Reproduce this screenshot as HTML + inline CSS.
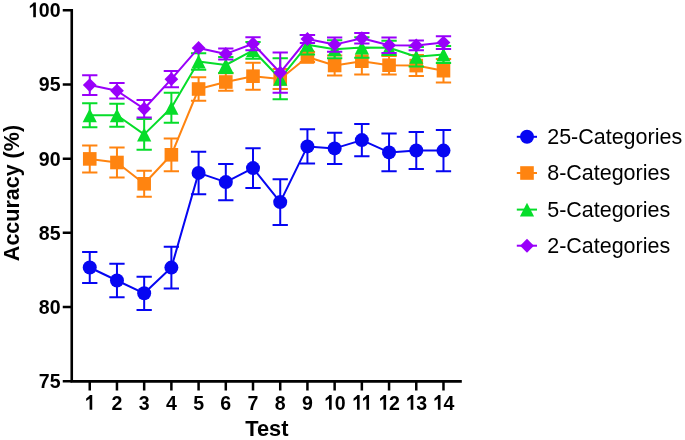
<!DOCTYPE html>
<html><head><meta charset="utf-8"><style>
html,body{margin:0;padding:0;background:#fff;}
body{width:685px;height:440px;overflow:hidden;}
svg{display:block;filter:blur(0.3px);}
text{font-family:"Liberation Sans",sans-serif;fill:#000;}
.tk{font-size:20.6px;font-weight:bold;}
.ttl{font-size:22.9px;font-weight:bold;}
.lg{font-size:22.8px;}
</style></head><body>
<svg width="685" height="440" viewBox="0 0 685 440">
<rect width="685" height="440" fill="#fff"/>
<path d="M71.75 9.0V382.75M70.5 381.4H461.8" stroke="#000" stroke-width="2.6" fill="none"/>
<path d="M62.75 10.2H71.75M62.75 84.42H71.75M62.75 158.64H71.75M62.75 232.86H71.75M62.75 307.08H71.75M62.75 381.3H71.75M89.75 381.4V390.5M116.96 381.4V390.5M144.17 381.4V390.5M171.38 381.4V390.5M198.59 381.4V390.5M225.8 381.4V390.5M253.01 381.4V390.5M280.22 381.4V390.5M307.43 381.4V390.5M334.64 381.4V390.5M361.85 381.4V390.5M389.06 381.4V390.5M416.27 381.4V390.5M443.48 381.4V390.5" stroke="#000" stroke-width="2.5" fill="none"/>
<polygon points="35.88,17.2 35.88,2.45 33.63,2.45 32.56,3.71 29.82,5.97 29.82,8.34 33.24,6.08 33.24,17.2" fill="#000"/><text transform="translate(38.84 17.2) scale(0.95 1)" class="tk">0</text><text transform="translate(49.72 17.2) scale(0.95 1)" class="tk">0</text>
<text transform="translate(38.84 91.42) scale(0.95 1)" class="tk">9</text><text transform="translate(49.72 91.42) scale(0.95 1)" class="tk">5</text>
<text transform="translate(38.84 165.64) scale(0.95 1)" class="tk">9</text><text transform="translate(49.72 165.64) scale(0.95 1)" class="tk">0</text>
<text transform="translate(38.84 239.86) scale(0.95 1)" class="tk">8</text><text transform="translate(49.72 239.86) scale(0.95 1)" class="tk">5</text>
<text transform="translate(38.84 314.08) scale(0.95 1)" class="tk">8</text><text transform="translate(49.72 314.08) scale(0.95 1)" class="tk">0</text>
<text transform="translate(38.84 388.3) scale(0.95 1)" class="tk">7</text><text transform="translate(49.72 388.3) scale(0.95 1)" class="tk">5</text>
<polygon points="92.24,409.8 92.24,395.05 89.98,395.05 88.91,396.31 86.17,398.57 86.17,400.94 89.59,398.68 89.59,409.8" fill="#000"/>
<text transform="translate(111.52 409.8) scale(0.95 1)" class="tk">2</text>
<text transform="translate(138.73 409.8) scale(0.95 1)" class="tk">3</text>
<text transform="translate(165.94 409.8) scale(0.95 1)" class="tk">4</text>
<text transform="translate(193.15 409.8) scale(0.95 1)" class="tk">5</text>
<text transform="translate(220.36 409.8) scale(0.95 1)" class="tk">6</text>
<text transform="translate(247.57 409.8) scale(0.95 1)" class="tk">7</text>
<text transform="translate(274.78 409.8) scale(0.95 1)" class="tk">8</text>
<text transform="translate(301.99 409.8) scale(0.95 1)" class="tk">9</text>
<polygon points="331.68,409.8 331.68,395.05 329.43,395.05 328.36,396.31 325.62,398.57 325.62,400.94 329.04,398.68 329.04,409.8" fill="#000"/><text transform="translate(334.64 409.8) scale(0.95 1)" class="tk">0</text>
<polygon points="359.62,409.8 359.62,395.05 357.37,395.05 356.29,396.31 353.55,398.57 353.55,400.94 356.98,398.68 356.98,409.8" fill="#000"/><polygon points="369.05,409.8 369.05,395.05 366.8,395.05 365.72,396.31 362.99,398.57 362.99,400.94 366.41,398.68 366.41,409.8" fill="#000"/>
<polygon points="386.1,409.8 386.1,395.05 383.85,395.05 382.78,396.31 380.04,398.57 380.04,400.94 383.46,398.68 383.46,409.8" fill="#000"/><text transform="translate(389.06 409.8) scale(0.95 1)" class="tk">2</text>
<polygon points="413.31,409.8 413.31,395.05 411.06,395.05 409.99,396.31 407.25,398.57 407.25,400.94 410.67,398.68 410.67,409.8" fill="#000"/><text transform="translate(416.27 409.8) scale(0.95 1)" class="tk">3</text>
<polygon points="440.52,409.8 440.52,395.05 438.27,395.05 437.2,396.31 434.46,398.57 434.46,400.94 437.88,398.68 437.88,409.8" fill="#000"/><text transform="translate(443.48 409.8) scale(0.95 1)" class="tk">4</text>
<text transform="translate(266.8 435.7) scale(0.952 1)" text-anchor="middle" class="ttl">Test</text>
<text transform="translate(18.75 193.05) rotate(-90) scale(0.939 1)" text-anchor="middle" class="ttl">Accuracy (%)</text>
<polyline points="89.75,267.5 116.96,280.5 144.17,293.3 171.38,267.6 198.59,172.9 225.8,182.1 253.01,168.1 280.22,202.1 307.43,146.4 334.64,148.4 361.85,140.1 389.06,152.4 416.27,150.5 443.48,150.6" fill="none" stroke="#0606f2" stroke-width="2.0" stroke-linejoin="round"/>
<path d="M89.75 251.95V283.05M82.1 251.95H97.4M82.1 283.05H97.4M116.96 263.75V297.25M109.31 263.75H124.61M109.31 297.25H124.61M144.17 276.65V309.95M136.52 276.65H151.82M136.52 309.95H151.82M171.38 246.7V288.5M163.73 246.7H179.03M163.73 288.5H179.03M198.59 151.65V194.15M190.94 151.65H206.24M190.94 194.15H206.24M225.8 163.9V200.3M218.15 163.9H233.45M218.15 200.3H233.45M253.01 148.15V188.05M245.36 148.15H260.66M245.36 188.05H260.66M280.22 179.3V224.9M272.57 179.3H287.87M272.57 224.9H287.87M307.43 129.35V163.45M299.78 129.35H315.08M299.78 163.45H315.08M334.64 132.7V164.1M326.99 132.7H342.29M326.99 164.1H342.29M361.85 124.05V156.15M354.2 124.05H369.5M354.2 156.15H369.5M389.06 133.55V171.25M381.41 133.55H396.71M381.41 171.25H396.71M416.27 132V169M408.62 132H423.92M408.62 169H423.92M443.48 130.05V171.15M435.83 130.05H451.13M435.83 171.15H451.13" fill="none" stroke="#0606f2" stroke-width="2.0"/>
<circle cx="89.75" cy="267.5" r="7" fill="#0606f2"/>
<circle cx="116.96" cy="280.5" r="7" fill="#0606f2"/>
<circle cx="144.17" cy="293.3" r="7" fill="#0606f2"/>
<circle cx="171.38" cy="267.6" r="7" fill="#0606f2"/>
<circle cx="198.59" cy="172.9" r="7" fill="#0606f2"/>
<circle cx="225.8" cy="182.1" r="7" fill="#0606f2"/>
<circle cx="253.01" cy="168.1" r="7" fill="#0606f2"/>
<circle cx="280.22" cy="202.1" r="7" fill="#0606f2"/>
<circle cx="307.43" cy="146.4" r="7" fill="#0606f2"/>
<circle cx="334.64" cy="148.4" r="7" fill="#0606f2"/>
<circle cx="361.85" cy="140.1" r="7" fill="#0606f2"/>
<circle cx="389.06" cy="152.4" r="7" fill="#0606f2"/>
<circle cx="416.27" cy="150.5" r="7" fill="#0606f2"/>
<circle cx="443.48" cy="150.6" r="7" fill="#0606f2"/>
<polyline points="89.75,158.9 116.96,162.5 144.17,183.8 171.38,154.8 198.59,89 225.8,82 253.01,76.2 280.22,79 307.43,57 334.64,65.5 361.85,61.2 389.06,65.2 416.27,65.6 443.48,70.7" fill="none" stroke="#ff8410" stroke-width="2.0" stroke-linejoin="round"/>
<path d="M89.75 145.4V172.4M82.1 145.4H97.4M82.1 172.4H97.4M116.96 147.5V177.5M109.31 147.5H124.61M109.31 177.5H124.61M144.17 170.8V196.8M136.52 170.8H151.82M136.52 196.8H151.82M171.38 138.45V171.15M163.73 138.45H179.03M163.73 171.15H179.03M198.59 77.25V100.75M190.94 77.25H206.24M190.94 100.75H206.24M225.8 73.3V90.7M218.15 73.3H233.45M218.15 90.7H233.45M253.01 62.7V89.7M245.36 62.7H260.66M245.36 89.7H260.66M280.22 69V89M272.57 69H287.87M272.57 89H287.87M307.43 52V62M299.78 52H315.08M299.78 62H315.08M334.64 55.5V75.5M326.99 55.5H342.29M326.99 75.5H342.29M361.85 47.9V74.5M354.2 47.9H369.5M354.2 74.5H369.5M389.06 55.9V74.5M381.41 55.9H396.71M381.41 74.5H396.71M416.27 55.1V76.1M408.62 55.1H423.92M408.62 76.1H423.92M443.48 58.9V82.5M435.83 58.9H451.13M435.83 82.5H451.13" fill="none" stroke="#ff8410" stroke-width="2.0"/>
<rect x="82.95" y="152.1" width="13.6" height="13.6" fill="#ff8410"/>
<rect x="110.16" y="155.7" width="13.6" height="13.6" fill="#ff8410"/>
<rect x="137.37" y="177" width="13.6" height="13.6" fill="#ff8410"/>
<rect x="164.58" y="148" width="13.6" height="13.6" fill="#ff8410"/>
<rect x="191.79" y="82.2" width="13.6" height="13.6" fill="#ff8410"/>
<rect x="219" y="75.2" width="13.6" height="13.6" fill="#ff8410"/>
<rect x="246.21" y="69.4" width="13.6" height="13.6" fill="#ff8410"/>
<rect x="273.42" y="72.2" width="13.6" height="13.6" fill="#ff8410"/>
<rect x="300.63" y="50.2" width="13.6" height="13.6" fill="#ff8410"/>
<rect x="327.84" y="58.7" width="13.6" height="13.6" fill="#ff8410"/>
<rect x="355.05" y="54.4" width="13.6" height="13.6" fill="#ff8410"/>
<rect x="382.26" y="58.4" width="13.6" height="13.6" fill="#ff8410"/>
<rect x="409.47" y="58.8" width="13.6" height="13.6" fill="#ff8410"/>
<rect x="436.68" y="63.9" width="13.6" height="13.6" fill="#ff8410"/>
<polyline points="89.75,115.25 116.96,115.3 144.17,134.4 171.38,107.7 198.59,61.5 225.8,65 253.01,50.3 280.22,78.7 307.43,44.8 334.64,49.3 361.85,47.4 389.06,47.8 416.27,56.8 443.48,54.6" fill="none" stroke="#06dd2a" stroke-width="2.0" stroke-linejoin="round"/>
<path d="M89.75 103.25V127.25M82.1 103.25H97.4M82.1 127.25H97.4M116.96 103.8V126.8M109.31 103.8H124.61M109.31 126.8H124.61M144.17 119V149.8M136.52 119H151.82M136.52 149.8H151.82M171.38 92.7V122.7M163.73 92.7H179.03M163.73 122.7H179.03M198.59 53.25V69.75M190.94 53.25H206.24M190.94 69.75H206.24M225.8 56.9V73.1M218.15 56.9H233.45M218.15 73.1H233.45M253.01 41.9V58.7M245.36 41.9H260.66M245.36 58.7H260.66M280.22 58.2V99.2M272.57 58.2H287.87M272.57 99.2H287.87M307.43 35V54.6M299.78 35H315.08M299.78 54.6H315.08M334.64 40.3V58.3M326.99 40.3H342.29M326.99 58.3H342.29M361.85 37.15V57.65M354.2 37.15H369.5M354.2 57.65H369.5M389.06 40.7V54.9M381.41 40.7H396.71M381.41 54.9H396.71M416.27 47V66.6M408.62 47H423.92M408.62 66.6H423.92M443.48 46.1V63.1M435.83 46.1H451.13M435.83 63.1H451.13" fill="none" stroke="#06dd2a" stroke-width="2.0"/>
<polygon points="89.75,108.45 96.85,122.25 82.65,122.25" fill="#06dd2a"/>
<polygon points="116.96,108.5 124.06,122.3 109.86,122.3" fill="#06dd2a"/>
<polygon points="144.17,127.6 151.27,141.4 137.07,141.4" fill="#06dd2a"/>
<polygon points="171.38,100.9 178.48,114.7 164.28,114.7" fill="#06dd2a"/>
<polygon points="198.59,54.7 205.69,68.5 191.49,68.5" fill="#06dd2a"/>
<polygon points="225.8,58.2 232.9,72 218.7,72" fill="#06dd2a"/>
<polygon points="253.01,43.5 260.11,57.3 245.91,57.3" fill="#06dd2a"/>
<polygon points="280.22,71.9 287.32,85.7 273.12,85.7" fill="#06dd2a"/>
<polygon points="307.43,38 314.53,51.8 300.33,51.8" fill="#06dd2a"/>
<polygon points="334.64,42.5 341.74,56.3 327.54,56.3" fill="#06dd2a"/>
<polygon points="361.85,40.6 368.95,54.4 354.75,54.4" fill="#06dd2a"/>
<polygon points="389.06,41 396.16,54.8 381.96,54.8" fill="#06dd2a"/>
<polygon points="416.27,50 423.37,63.8 409.17,63.8" fill="#06dd2a"/>
<polygon points="443.48,47.8 450.58,61.6 436.38,61.6" fill="#06dd2a"/>
<polyline points="89.75,85.1 116.96,90.75 144.17,108.8 171.38,79.15 198.59,47.9 225.8,53.9 253.01,43.8 280.22,72.7 307.43,39 334.64,44.6 361.85,38.2 389.06,45.3 416.27,45.4 443.48,42.6" fill="none" stroke="#9900fa" stroke-width="2.0" stroke-linejoin="round"/>
<path d="M89.75 75.2V95M82.1 75.2H97.4M82.1 95H97.4M116.96 83.1V98.4M109.31 83.1H124.61M109.31 98.4H124.61M144.17 100V117.6M136.52 100H151.82M136.52 117.6H151.82M171.38 71V87.3M163.73 71H179.03M163.73 87.3H179.03M225.8 48.4V59.4M218.15 48.4H233.45M218.15 59.4H233.45M253.01 37.3V50.3M245.36 37.3H260.66M245.36 50.3H260.66M280.22 52.6V92.8M272.57 52.6H287.87M272.57 92.8H287.87M307.43 35V43M299.78 35H315.08M299.78 43H315.08M334.64 37.5V51.7M326.99 37.5H342.29M326.99 51.7H342.29M361.85 32.9V43.5M354.2 32.9H369.5M354.2 43.5H369.5M389.06 37.5V53.1M381.41 37.5H396.71M381.41 53.1H396.71M416.27 40.6V50.2M408.62 40.6H423.92M408.62 50.2H423.92M443.48 36.2V49M435.83 36.2H451.13M435.83 49H451.13" fill="none" stroke="#9900fa" stroke-width="2.0"/>
<polygon points="89.75,78.15 96.65,85.1 89.75,92.05 82.85,85.1" fill="#9900fa"/>
<polygon points="116.96,83.8 123.86,90.75 116.96,97.7 110.06,90.75" fill="#9900fa"/>
<polygon points="144.17,101.85 151.07,108.8 144.17,115.75 137.27,108.8" fill="#9900fa"/>
<polygon points="171.38,72.2 178.28,79.15 171.38,86.1 164.48,79.15" fill="#9900fa"/>
<polygon points="198.59,40.95 205.49,47.9 198.59,54.85 191.69,47.9" fill="#9900fa"/>
<polygon points="225.8,46.95 232.7,53.9 225.8,60.85 218.9,53.9" fill="#9900fa"/>
<polygon points="253.01,36.85 259.91,43.8 253.01,50.75 246.11,43.8" fill="#9900fa"/>
<polygon points="280.22,65.75 287.12,72.7 280.22,79.65 273.32,72.7" fill="#9900fa"/>
<polygon points="307.43,32.05 314.33,39 307.43,45.95 300.53,39" fill="#9900fa"/>
<polygon points="334.64,37.65 341.54,44.6 334.64,51.55 327.74,44.6" fill="#9900fa"/>
<polygon points="361.85,31.25 368.75,38.2 361.85,45.15 354.95,38.2" fill="#9900fa"/>
<polygon points="389.06,38.35 395.96,45.3 389.06,52.25 382.16,45.3" fill="#9900fa"/>
<polygon points="416.27,38.45 423.17,45.4 416.27,52.35 409.37,45.4" fill="#9900fa"/>
<polygon points="443.48,35.65 450.38,42.6 443.48,49.55 436.58,42.6" fill="#9900fa"/>
<path d="M516.8 136.8H537" stroke="#0606f2" stroke-width="2.0"/>
<circle cx="527" cy="136.8" r="7" fill="#0606f2"/>
<text transform="translate(547.2 143.7) scale(0.943 1)" class="lg">25-Categories</text>
<path d="M516.8 173H537" stroke="#ff8410" stroke-width="2.0"/>
<rect x="520.2" y="166.2" width="13.6" height="13.6" fill="#ff8410"/>
<text transform="translate(547.2 179.9) scale(0.943 1)" class="lg">8-Categories</text>
<path d="M516.8 209.6H537" stroke="#06dd2a" stroke-width="2.0"/>
<polygon points="527,202.8 534.1,216.6 519.9,216.6" fill="#06dd2a"/>
<text transform="translate(547.2 216.5) scale(0.943 1)" class="lg">5-Categories</text>
<path d="M516.8 245.7H537" stroke="#9900fa" stroke-width="2.0"/>
<polygon points="527,238.75 533.9,245.7 527,252.65 520.1,245.7" fill="#9900fa"/>
<text transform="translate(547.2 252.6) scale(0.943 1)" class="lg">2-Categories</text>
</svg>
</body></html>
